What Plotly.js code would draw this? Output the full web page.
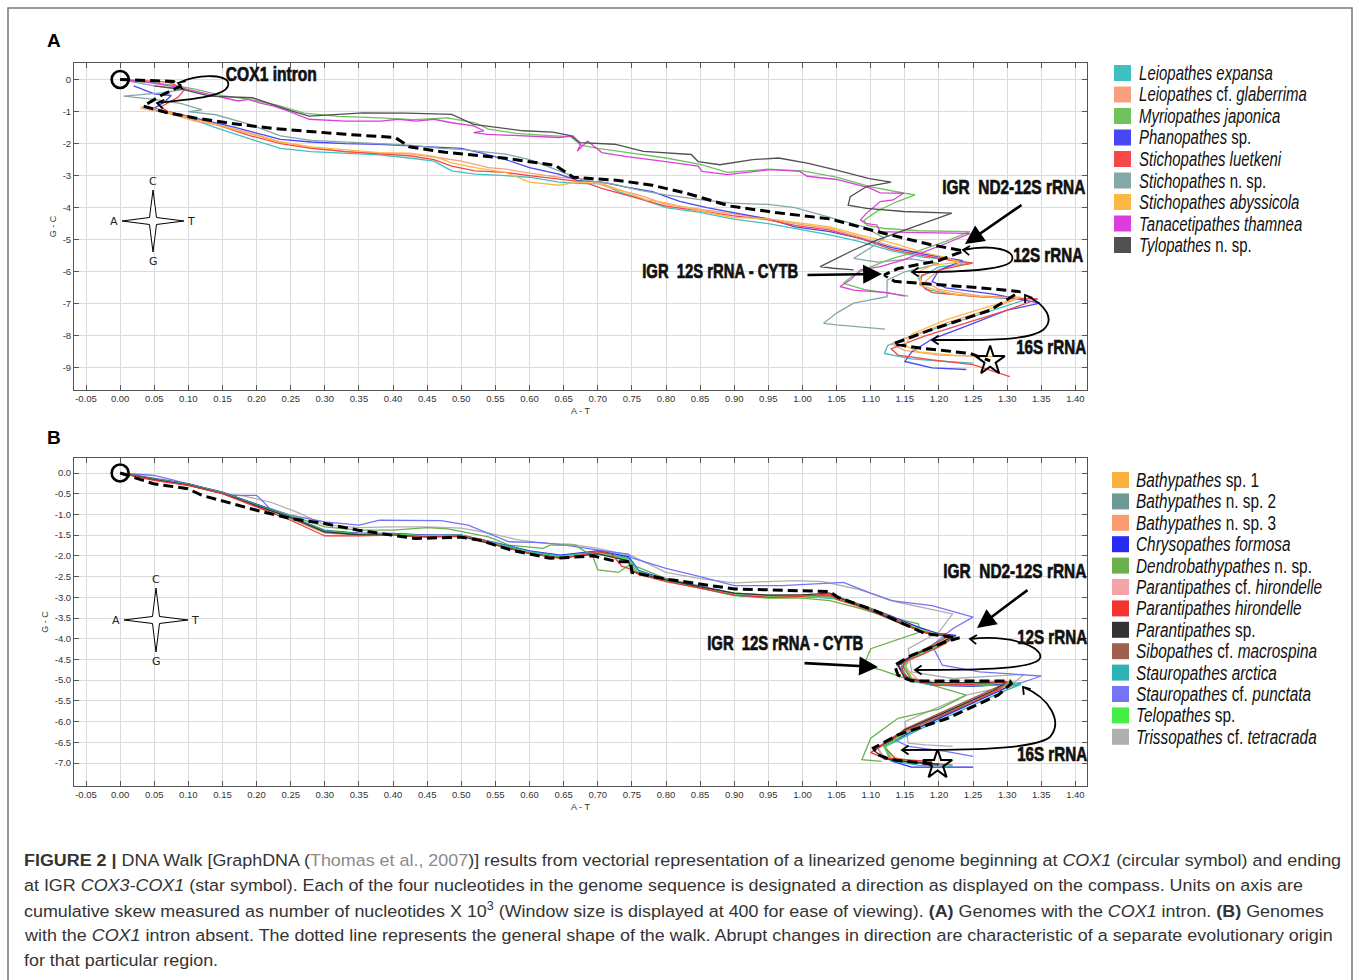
<!DOCTYPE html>
<html><head><meta charset="utf-8">
<script src="https://cdn.plot.ly/plotly-3.0.1.min.js"></script>
<style>body{margin:0;background:#fff}#chart{width:1358px;height:980px}</style>
</head><body><div id="chart"></div>
<script>
// ---------------- DATA: Panel A (genomes with COX1 intron) ----------------
const namesA = ['<i>Leiopathes expansa</i>','<i>Leiopathes</i> cf. <i>glaberrima</i>','<i>Myriopathes japonica</i>','<i>Phanopathes</i> sp.','<i>Stichopathes luetkeni</i>','<i>Stichopathes</i> n. sp.','<i>Stichopathes abyssicola</i>','<i>Tanacetipathes thamnea</i>','<i>Tylopathes</i> n. sp.'];
const colorsA = ['#3fc0c0','#f8a07c','#70c05c','#4747f5','#f54848','#84a8a8','#fbb845','#dd3ddd','#505050'];

const xA_expansa = [0.035,0.06,0.10,0.14,0.19,0.235,0.28,0.33,0.38,0.424,0.46,0.486,0.52,0.565,0.60,0.643,0.68,0.706,0.73,0.76,0.80,0.85,0.897,0.95,0.989,1.04,1.083,1.131,1.178,1.21,1.245,1.20,1.17,1.18,1.23,1.29,1.33,1.28,1.22,1.16,1.125,1.12,1.16,1.21,1.25];
const yA_expansa = [-0.85,-1.0,-1.2,-1.5,-1.85,-2.15,-2.25,-2.3,-2.35,-2.45,-2.55,-2.85,-2.95,-3.0,-3.05,-3.2,-3.25,-3.25,-3.5,-3.7,-4.0,-4.15,-4.35,-4.5,-4.65,-4.85,-5.05,-5.35,-5.55,-5.6,-5.75,-5.85,-6.2,-6.55,-6.72,-6.82,-6.85,-7.2,-7.6,-8.0,-8.3,-8.55,-8.72,-8.8,-8.85];

const xA_glaberrima = [0.03,0.07,0.11,0.15,0.20,0.235,0.28,0.33,0.38,0.424,0.47,0.50,0.54,0.565,0.61,0.643,0.68,0.706,0.73,0.76,0.80,0.85,0.897,0.95,0.989,1.04,1.083,1.131,1.178,1.215,1.24,1.20,1.18,1.20,1.26,1.32,1.27,1.21,1.16,1.13,1.15,1.20,1.27];
const yA_glaberrima = [-0.9,-1.05,-1.3,-1.45,-1.72,-1.95,-2.12,-2.25,-2.3,-2.32,-2.45,-2.55,-2.75,-2.8,-2.95,-3.05,-3.1,-3.3,-3.45,-3.6,-3.9,-4.05,-4.2,-4.35,-4.5,-4.65,-4.9,-5.2,-5.45,-5.6,-5.7,-5.95,-6.3,-6.55,-6.75,-6.8,-7.2,-7.6,-8.0,-8.25,-8.45,-8.6,-8.65];

const xA_japonica = [0.02,0.07,0.11,0.15,0.19,0.23,0.27,0.32,0.38,0.43,0.48,0.52,0.54,0.58,0.63,0.66,0.675,0.70,0.75,0.80,0.85,0.89,0.95,1.00,1.05,1.10,1.15,1.165,1.14,1.11,1.09,1.095,1.12,1.17,1.245,1.21,1.17,1.13,1.10,1.075,1.06,1.09,1.155];
const yA_japonica = [-0.05,-0.15,-0.3,-0.5,-0.62,-0.8,-1.05,-1.15,-1.2,-1.25,-1.2,-1.35,-1.55,-1.68,-1.75,-1.78,-2.05,-2.15,-2.3,-2.45,-2.65,-2.9,-2.8,-2.85,-3.05,-3.35,-3.55,-3.6,-3.8,-4.1,-4.4,-4.55,-4.65,-4.72,-4.75,-5.05,-5.35,-5.6,-5.85,-6.1,-6.36,-6.55,-6.76];

const xA_phanopathes = [0.02,0.05,0.075,0.065,0.05,0.08,0.12,0.17,0.235,0.28,0.33,0.38,0.424,0.46,0.50,0.53,0.565,0.60,0.643,0.67,0.706,0.74,0.78,0.82,0.86,0.897,0.95,0.989,1.04,1.083,1.131,1.178,1.21,1.235,1.20,1.19,1.21,1.28,1.348,1.30,1.24,1.19,1.16,1.15,1.19,1.24];
const yA_phanopathes = [-0.2,-0.45,-0.5,-0.7,-0.9,-1.05,-1.25,-1.5,-1.87,-1.95,-2.0,-2.02,-2.07,-2.1,-2.15,-2.3,-2.5,-2.75,-2.95,-3.15,-3.2,-3.35,-3.5,-3.8,-4.0,-4.15,-4.35,-4.6,-4.75,-4.95,-5.25,-5.45,-5.55,-5.65,-5.95,-6.3,-6.5,-6.7,-6.98,-7.2,-7.7,-8.1,-8.5,-8.8,-9.0,-9.05];

const xA_luetkeni = [0.00,0.07,0.095,0.085,0.06,0.07,0.10,0.14,0.19,0.235,0.28,0.33,0.38,0.424,0.46,0.486,0.52,0.565,0.60,0.643,0.68,0.706,0.75,0.80,0.85,0.897,0.95,0.989,1.04,1.083,1.131,1.178,1.22,1.25,1.21,1.175,1.172,1.19,1.26,1.345,1.30,1.24,1.18,1.13,1.14,1.19,1.25,1.304];
const yA_luetkeni = [0.0,-0.08,-0.3,-0.55,-0.85,-1.0,-1.15,-1.4,-1.75,-2.0,-2.15,-2.25,-2.32,-2.38,-2.5,-2.7,-2.85,-2.9,-3.0,-3.1,-3.2,-3.4,-3.65,-3.95,-4.1,-4.25,-4.38,-4.55,-4.7,-4.95,-5.3,-5.5,-5.65,-5.72,-5.9,-6.1,-6.4,-6.65,-6.78,-6.85,-7.2,-7.6,-8.0,-8.4,-8.6,-8.75,-8.9,-9.27];

const xA_stichNsp = [0.00,0.05,0.09,0.06,0.005,0.05,0.09,0.12,0.10,0.14,0.19,0.235,0.28,0.33,0.38,0.424,0.47,0.50,0.53,0.565,0.60,0.643,0.68,0.72,0.76,0.80,0.85,0.897,0.95,0.989,1.04,1.09,1.12,1.10,1.075,1.11,1.16,1.20,1.15,1.124,1.124,1.075,1.05,1.031,1.05,1.075,1.121];
const yA_stichNsp = [0.0,-0.2,-0.32,-0.42,-0.52,-0.62,-0.75,-0.95,-1.0,-1.1,-1.4,-1.76,-1.9,-1.95,-2.0,-2.05,-2.15,-2.18,-2.25,-2.33,-2.5,-2.85,-3.15,-3.25,-3.45,-3.6,-3.75,-3.86,-3.9,-4.0,-4.3,-4.6,-4.95,-5.25,-5.58,-5.7,-5.6,-5.75,-6.0,-6.26,-6.78,-6.98,-7.29,-7.61,-7.66,-7.71,-7.79];

const xA_abyssicola = [0.03,0.06,0.10,0.14,0.19,0.235,0.28,0.33,0.38,0.424,0.46,0.486,0.52,0.565,0.60,0.643,0.67,0.706,0.74,0.77,0.80,0.85,0.897,0.95,0.989,1.04,1.083,1.131,1.178,1.21,1.23,1.19,1.17,1.175,1.22,1.28,1.32,1.27,1.21,1.16,1.15,1.17,1.22,1.28];
const yA_abyssicola = [-0.85,-0.95,-1.2,-1.4,-1.7,-1.95,-2.1,-2.2,-2.28,-2.3,-2.4,-2.6,-2.75,-2.9,-3.2,-3.3,-3.2,-3.25,-3.5,-3.75,-3.85,-4.1,-4.3,-4.35,-4.45,-4.6,-4.85,-5.1,-5.4,-5.55,-5.7,-5.8,-6.0,-6.45,-6.7,-6.8,-6.8,-7.1,-7.5,-7.95,-8.3,-8.5,-8.6,-8.65];

const xA_thamnea = [0.00,0.04,0.089,0.12,0.157,0.173,0.188,0.204,0.225,0.246,0.277,0.33,0.382,0.408,0.434,0.46,0.486,0.518,0.533,0.518,0.539,0.591,0.643,0.664,0.675,0.67,0.685,0.706,0.74,0.794,0.847,0.853,0.89,0.954,0.996,1.007,1.05,1.098,1.114,1.148,1.133,1.114,1.094,1.085,1.092,1.109,1.114,1.172,1.246,1.211,1.172,1.148,1.114,1.085,1.07,1.055,1.075,1.124,1.15];
const yA_thamnea = [0.0,-0.08,-0.26,-0.41,-0.57,-0.67,-0.62,-0.73,-0.83,-0.98,-1.24,-1.3,-1.3,-1.24,-1.3,-1.24,-1.35,-1.45,-1.6,-1.66,-1.71,-1.76,-1.81,-1.76,-2.02,-2.23,-1.92,-2.28,-2.4,-2.55,-2.7,-2.87,-2.97,-2.81,-2.87,-3.02,-3.12,-3.38,-3.54,-3.55,-3.76,-3.81,-4.17,-4.38,-4.49,-4.54,-4.75,-4.78,-4.8,-5.11,-5.42,-5.63,-5.84,-5.94,-6.26,-6.46,-6.57,-6.65,-6.76];

const xA_tylopathes = [0.05,0.09,0.131,0.194,0.251,0.277,0.356,0.42,0.486,0.518,0.591,0.634,0.66,0.674,0.725,0.767,0.837,0.847,0.879,0.927,0.965,1.007,1.05,1.098,1.13,1.094,1.07,1.067,1.094,1.148,1.219,1.158,1.109,1.075,1.04,1.026,1.045,1.075];
const yA_tylopathes = [-0.2,-0.3,-0.52,-0.57,-0.98,-1.14,-1.04,-1.05,-1.09,-1.4,-1.6,-1.64,-1.75,-1.97,-2.02,-2.24,-2.34,-2.56,-2.66,-2.5,-2.45,-2.61,-2.83,-3.09,-3.2,-3.34,-3.66,-3.92,-4.02,-4.12,-4.17,-4.64,-5.01,-5.32,-5.68,-5.84,-5.89,-5.94];

// general shape of the walk (dotted line), panel A
const xA_shape = [0.00,0.078,0.089,0.06,0.034,0.068,0.11,0.162,0.225,0.28,0.33,0.403,0.424,0.476,0.565,0.638,0.664,0.73,0.78,0.83,0.894,0.96,1.04,1.11,1.187,1.236,1.20,1.14,1.12,1.135,1.216,1.26,1.319,1.275,1.187,1.133,1.172,1.246,1.275];
const yA_shape = [0.0,-0.06,-0.2,-0.5,-0.83,-1.03,-1.2,-1.37,-1.53,-1.63,-1.71,-1.81,-2.1,-2.27,-2.46,-2.68,-3.05,-3.15,-3.3,-3.55,-3.95,-4.15,-4.35,-4.75,-5.15,-5.35,-5.65,-5.9,-6.1,-6.3,-6.42,-6.5,-6.62,-7.2,-7.82,-8.25,-8.38,-8.55,-8.78];

const seriesA = [
  [xA_expansa,yA_expansa],[xA_glaberrima,yA_glaberrima],[xA_japonica,yA_japonica],[xA_phanopathes,yA_phanopathes],
  [xA_luetkeni,yA_luetkeni],[xA_stichNsp,yA_stichNsp],[xA_abyssicola,yA_abyssicola],[xA_thamnea,yA_thamnea],[xA_tylopathes,yA_tylopathes]];

// ---------------- DATA: Panel B (COX1 intron absent) ----------------
const namesB = ['<i>Bathypathes</i> sp. 1','<i>Bathypathes</i> n. sp. 2','<i>Bathypathes</i> n. sp. 3','<i>Chrysopathes formosa</i>','<i>Dendrobathypathes</i> n. sp.','<i>Parantipathes</i> cf. <i>hirondelle</i>','<i>Parantipathes hirondelle</i>','<i>Parantipathes</i> sp.','<i>Sibopathes</i> cf. <i>macrospina</i>','<i>Stauropathes arctica</i>','<i>Stauropathes</i> cf. <i>punctata</i>','<i>Telopathes</i> sp.','<i>Trissopathes</i> cf. <i>tetracrada</i>'];
const colorsB = ['#fbb23c','#6f9999','#f99b70','#2a2af5','#6ab04c','#f5a3aa','#f53232','#333333','#a0604e','#2db3b3','#7474f8','#44ee44','#b0b0b0'];

const xB_bath1 = [0.00,0.05,0.10,0.15,0.20,0.25,0.30,0.35,0.40,0.45,0.50,0.55,0.60,0.645,0.70,0.745,0.75,0.80,0.85,0.90,0.95,1.00,1.05,1.08,1.12,1.16,1.19,1.22,1.21,1.17,1.15,1.16,1.19,1.25,1.31,1.29,1.23,1.17,1.12,1.13,1.16,1.19];
const yB_bath1 = [0.0,-0.16,-0.28,-0.48,-0.78,-1.08,-1.42,-1.48,-1.5,-1.52,-1.5,-1.72,-1.92,-2.02,-1.92,-2.08,-2.35,-2.58,-2.76,-2.92,-2.96,-2.95,-3.0,-3.15,-3.4,-3.7,-3.86,-3.92,-4.12,-4.38,-4.6,-4.95,-5.08,-5.1,-5.04,-5.2,-5.65,-6.1,-6.55,-6.85,-6.95,-7.0];

const xB_bath2 = [0.00,0.05,0.10,0.15,0.20,0.25,0.30,0.35,0.40,0.45,0.50,0.55,0.60,0.645,0.70,0.745,0.75,0.80,0.85,0.90,0.95,1.00,1.05,1.09,1.13,1.17,1.20,1.225,1.20,1.16,1.145,1.15,1.19,1.26,1.32,1.28,1.22,1.16,1.11,1.12,1.15,1.18];
const yB_bath2 = [0.0,-0.14,-0.27,-0.47,-0.76,-1.05,-1.38,-1.45,-1.47,-1.5,-1.5,-1.7,-1.9,-2.0,-1.9,-2.05,-2.32,-2.55,-2.72,-2.9,-2.95,-2.94,-2.98,-3.2,-3.45,-3.75,-3.9,-3.95,-4.15,-4.45,-4.7,-4.98,-5.1,-5.12,-5.06,-5.3,-5.75,-6.2,-6.65,-6.9,-6.98,-7.02];

const xB_bath3 = [0.00,0.05,0.10,0.15,0.20,0.25,0.30,0.35,0.40,0.45,0.50,0.55,0.60,0.645,0.70,0.74,0.76,0.80,0.85,0.90,0.95,1.00,1.05,1.09,1.13,1.17,1.20,1.22,1.19,1.16,1.15,1.17,1.21,1.27,1.315,1.28,1.22,1.16,1.12,1.13,1.17,1.20];
const yB_bath3 = [0.0,-0.17,-0.3,-0.5,-0.8,-1.1,-1.45,-1.5,-1.5,-1.53,-1.52,-1.74,-1.95,-2.04,-1.93,-2.1,-2.38,-2.6,-2.78,-2.93,-2.98,-2.96,-3.02,-3.22,-3.48,-3.76,-3.9,-3.94,-4.2,-4.45,-4.68,-5.0,-5.1,-5.1,-5.08,-5.3,-5.72,-6.18,-6.6,-6.9,-6.98,-7.05];

const xB_chrys = [0.00,0.05,0.10,0.15,0.20,0.25,0.30,0.35,0.40,0.45,0.50,0.55,0.60,0.645,0.70,0.745,0.76,0.80,0.85,0.90,0.95,1.00,1.05,1.09,1.13,1.17,1.20,1.225,1.20,1.16,1.14,1.15,1.19,1.25,1.31,1.29,1.23,1.17,1.12,1.13,1.16,1.20,1.25];
const yB_chrys = [0.0,-0.14,-0.26,-0.46,-0.76,-1.06,-1.4,-1.46,-1.46,-1.5,-1.5,-1.68,-1.88,-1.98,-1.88,-2.02,-2.35,-2.58,-2.75,-2.92,-2.98,-2.98,-3.02,-3.22,-3.46,-3.72,-3.88,-3.92,-4.15,-4.4,-4.62,-4.9,-5.12,-5.15,-5.08,-5.25,-5.7,-6.15,-6.6,-6.95,-7.1,-7.1,-7.1];

const xB_dendro = [0.00,0.05,0.10,0.15,0.20,0.25,0.30,0.35,0.40,0.45,0.48,0.54,0.57,0.62,0.63,0.667,0.693,0.70,0.73,0.748,0.80,0.85,0.90,0.95,1.00,1.04,1.08,1.12,1.17,1.172,1.10,1.09,1.116,1.165,1.19,1.24,1.20,1.14,1.10,1.087,1.116];
const yB_dendro = [0.0,-0.15,-0.28,-0.48,-0.75,-1.02,-1.3,-1.38,-1.38,-1.32,-1.35,-1.54,-1.74,-1.82,-1.74,-1.74,-2.02,-2.34,-2.4,-2.2,-2.55,-2.75,-2.95,-3.02,-3.02,-3.08,-3.25,-3.45,-3.64,-3.84,-4.24,-4.64,-4.76,-5.04,-5.12,-5.36,-5.7,-5.92,-6.4,-6.92,-6.96];

const xB_paraCf = [0.00,0.05,0.10,0.15,0.20,0.25,0.30,0.35,0.40,0.45,0.50,0.55,0.60,0.645,0.70,0.745,0.755,0.80,0.85,0.90,0.95,1.00,1.04,1.07,1.11,1.15,1.19,1.22,1.20,1.17,1.15,1.16,1.20,1.26,1.31,1.28,1.22,1.16,1.11,1.12,1.16,1.19];
const yB_paraCf = [0.0,-0.17,-0.3,-0.5,-0.8,-1.1,-1.44,-1.5,-1.49,-1.52,-1.51,-1.73,-1.93,-2.04,-1.92,-2.08,-2.36,-2.6,-2.77,-2.93,-2.98,-2.96,-2.94,-3.12,-3.38,-3.65,-3.88,-3.94,-4.16,-4.4,-4.6,-4.95,-5.08,-5.08,-5.04,-5.22,-5.68,-6.15,-6.6,-6.88,-6.96,-7.0];

const xB_paraHir = [0.00,0.05,0.10,0.15,0.20,0.25,0.30,0.35,0.40,0.45,0.50,0.53,0.56,0.60,0.645,0.67,0.70,0.72,0.735,0.745,0.76,0.80,0.85,0.90,0.95,1.00,1.04,1.05,1.08,1.11,1.14,1.17,1.19,1.21,1.22,1.20,1.17,1.15,1.145,1.16,1.20,1.25,1.30,1.29,1.24,1.19,1.14,1.10,1.12,1.15,1.19];
const yB_paraHir = [0.0,-0.18,-0.3,-0.5,-0.82,-1.14,-1.52,-1.52,-1.5,-1.55,-1.52,-1.6,-1.78,-1.94,-2.06,-2.0,-1.9,-1.95,-2.25,-2.3,-2.45,-2.62,-2.78,-2.95,-3.0,-2.98,-2.92,-3.05,-3.2,-3.35,-3.55,-3.8,-3.88,-3.88,-3.98,-4.2,-4.42,-4.55,-4.8,-5.0,-5.12,-5.1,-5.04,-5.2,-5.6,-5.95,-6.3,-6.75,-6.88,-6.92,-6.97];

const xB_paraSp = [0.00,0.05,0.10,0.15,0.20,0.25,0.30,0.35,0.40,0.45,0.50,0.55,0.60,0.645,0.70,0.745,0.75,0.80,0.85,0.90,0.95,1.00,1.04,1.06,1.10,1.14,1.18,1.22,1.20,1.16,1.14,1.15,1.19,1.25,1.30,1.28,1.22,1.15,1.105,1.12,1.16,1.20];
const yB_paraSp = [0.0,-0.16,-0.29,-0.49,-0.79,-1.08,-1.42,-1.49,-1.5,-1.54,-1.53,-1.74,-1.94,-2.05,-1.95,-2.12,-2.38,-2.58,-2.75,-2.9,-2.95,-2.94,-2.9,-3.05,-3.3,-3.6,-3.86,-3.95,-4.12,-4.42,-4.65,-4.95,-5.06,-5.06,-5.04,-5.25,-5.7,-6.2,-6.7,-6.9,-6.98,-7.03];

const xB_sibo = [0.00,0.05,0.10,0.15,0.20,0.25,0.30,0.35,0.40,0.45,0.50,0.55,0.60,0.645,0.70,0.745,0.755,0.80,0.85,0.90,0.95,1.00,1.04,1.07,1.11,1.15,1.19,1.215,1.19,1.16,1.145,1.16,1.20,1.26,1.30,1.27,1.21,1.15,1.12,1.14,1.18,1.22];
const yB_sibo = [0.0,-0.15,-0.28,-0.48,-0.78,-1.08,-1.43,-1.48,-1.48,-1.52,-1.5,-1.71,-1.92,-2.03,-1.93,-2.1,-2.37,-2.6,-2.78,-2.95,-3.0,-2.98,-2.96,-3.14,-3.4,-3.68,-3.88,-3.93,-4.15,-4.42,-4.62,-4.98,-5.1,-5.1,-5.06,-5.28,-5.72,-6.18,-6.62,-6.95,-7.0,-7.05];

const xB_arctica = [0.00,0.05,0.10,0.15,0.20,0.25,0.30,0.35,0.40,0.45,0.50,0.55,0.60,0.645,0.70,0.745,0.76,0.80,0.85,0.90,0.95,1.00,1.05,1.09,1.13,1.17,1.20,1.225,1.20,1.16,1.145,1.155,1.19,1.26,1.32,1.29,1.23,1.17,1.12,1.13,1.17,1.22];
const yB_arctica = [0.0,-0.15,-0.27,-0.47,-0.77,-1.07,-1.4,-1.47,-1.47,-1.51,-1.5,-1.69,-1.9,-2.0,-1.9,-2.06,-2.36,-2.6,-2.78,-2.96,-3.0,-2.98,-3.04,-3.25,-3.5,-3.78,-3.92,-3.96,-4.18,-4.45,-4.68,-4.98,-5.12,-5.14,-5.1,-5.3,-5.75,-6.2,-6.62,-6.95,-7.05,-7.08];

const xB_punctata = [0.00,0.05,0.08,0.12,0.16,0.20,0.22,0.25,0.30,0.35,0.38,0.43,0.47,0.51,0.54,0.57,0.62,0.66,0.70,0.745,0.75,0.80,0.85,0.90,0.97,1.02,1.06,1.10,1.13,1.19,1.25,1.22,1.19,1.205,1.26,1.35,1.31,1.24,1.17,1.13,1.155,1.21,1.25];
const yB_punctata = [0.0,-0.06,-0.18,-0.38,-0.54,-0.54,-0.86,-1.02,-1.18,-1.26,-1.14,-1.14,-1.15,-1.26,-1.46,-1.66,-1.68,-1.76,-1.86,-1.96,-2.05,-2.3,-2.5,-2.72,-2.72,-2.68,-2.64,-2.9,-3.08,-3.2,-3.48,-3.76,-4.16,-4.64,-4.8,-4.9,-5.12,-5.52,-6.08,-6.4,-6.6,-6.72,-6.84];

const xB_telo = [0.00,0.05,0.10,0.15,0.20,0.25,0.30,0.35,0.40,0.45,0.50,0.55,0.60,0.645,0.70,0.745,0.755,0.80,0.85,0.90,0.95,1.00,1.05,1.09,1.13,1.17,1.20,1.22,1.20,1.16,1.15,1.16,1.20,1.26,1.31,1.28,1.22,1.16,1.12,1.13,1.16,1.19];
const yB_telo = [0.0,-0.16,-0.29,-0.49,-0.79,-1.09,-1.42,-1.47,-1.48,-1.52,-1.51,-1.72,-1.93,-2.03,-1.93,-2.09,-2.37,-2.59,-2.76,-2.93,-2.98,-2.97,-3.02,-3.22,-3.48,-3.76,-3.9,-3.95,-4.17,-4.44,-4.66,-4.97,-5.1,-5.1,-5.06,-5.26,-5.72,-6.18,-6.62,-6.9,-6.98,-7.02];

const xB_triss = [0.00,0.05,0.10,0.15,0.18,0.22,0.26,0.30,0.35,0.40,0.45,0.50,0.54,0.58,0.62,0.66,0.70,0.75,0.80,0.85,0.90,0.95,0.99,1.03,1.08,1.14,1.22,1.20,1.155,1.16,1.22,1.325,1.306,1.24,1.15,1.155,1.18,1.22];
const yB_triss = [0.0,-0.12,-0.25,-0.5,-0.55,-0.7,-0.95,-1.25,-1.32,-1.3,-1.3,-1.33,-1.45,-1.6,-1.7,-1.72,-1.82,-2.0,-2.4,-2.55,-2.65,-2.62,-2.6,-2.62,-2.8,-3.12,-3.4,-3.84,-4.24,-4.8,-4.96,-4.86,-5.12,-5.36,-6.0,-6.52,-6.56,-6.6];

// general shape of the walk (dotted line), panel B
const xB_shape = [0.00,0.049,0.099,0.12,0.20,0.25,0.30,0.349,0.398,0.432,0.50,0.526,0.573,0.63,0.667,0.693,0.728,0.748,0.75,0.80,0.90,1.04,1.052,1.106,1.18,1.218,1.23,1.209,1.16,1.135,1.14,1.16,1.19,1.304,1.306,1.287,1.213,1.14,1.104,1.111,1.13,1.17,1.198];
const yB_shape = [0.0,-0.26,-0.38,-0.54,-0.9,-1.1,-1.22,-1.38,-1.5,-1.58,-1.55,-1.62,-1.86,-2.06,-2.03,-2.0,-2.14,-2.14,-2.4,-2.56,-2.8,-2.86,-3.0,-3.32,-3.88,-3.96,-3.98,-4.08,-4.4,-4.64,-4.88,-5.02,-5.02,-5.02,-5.08,-5.36,-5.92,-6.32,-6.64,-6.8,-6.92,-6.98,-7.04];

const seriesB = [
  [xB_bath1,yB_bath1],[xB_bath2,yB_bath2],[xB_bath3,yB_bath3],[xB_chrys,yB_chrys],[xB_dendro,yB_dendro],
  [xB_paraCf,yB_paraCf],[xB_paraHir,yB_paraHir],[xB_paraSp,yB_paraSp],[xB_sibo,yB_sibo],[xB_arctica,yB_arctica],
  [xB_punctata,yB_punctata],[xB_telo,yB_telo],[xB_triss,yB_triss]];
const drawOrderB = [12,10,4,0,1,2,3,5,8,9,11,7,6];

// axis tick values
const xTicks = [-0.05,0.00,0.05,0.10,0.15,0.20,0.25,0.30,0.35,0.40,0.45,0.50,0.55,0.60,0.65,0.70,0.75,0.80,0.85,0.90,0.95,1.00,1.05,1.10,1.15,1.20,1.25,1.30,1.35,1.40];
const yTicksA = [0,-1,-2,-3,-4,-5,-6,-7,-8,-9];
const yTicksB = [0.0,-0.5,-1.0,-1.5,-2.0,-2.5,-3.0,-3.5,-4.0,-4.5,-5.0,-5.5,-6.0,-6.5,-7.0];

// ---------------- BUILD ----------------
const W = 1358, H = 980;
const PX = x => x / W, PY = y => 1 - y / H;
const traces = [];
seriesA.forEach((s, i) => traces.push({type:'scatter', mode:'lines', x:s[0], y:s[1], xaxis:'x', yaxis:'y', line:{color:colorsA[i], width:1.3}, hoverinfo:'skip'}));
traces.push({type:'scatter', mode:'lines', x:xA_shape, y:yA_shape, xaxis:'x', yaxis:'y', line:{color:'#000', width:3, dash:'10px,5px'}, hoverinfo:'skip'});
traces.push({type:'scatter', mode:'markers', x:[xA_shape[0]], y:[yA_shape[0]], xaxis:'x', yaxis:'y', marker:{symbol:'circle-open', size:17, color:'#000', line:{width:2.6}}, hoverinfo:'skip'});
traces.push({type:'scatter', mode:'markers', x:[xA_shape[xA_shape.length-1]], y:[yA_shape[yA_shape.length-1]], xaxis:'x', yaxis:'y', marker:{symbol:'star-open', size:22, color:'#000', line:{width:2}}, hoverinfo:'skip'});
drawOrderB.forEach(i => { const s = seriesB[i]; traces.push({type:'scatter', mode:'lines', x:s[0], y:s[1], xaxis:'x2', yaxis:'y2', line:{color:colorsB[i], width:1.3}, hoverinfo:'skip'}); });
traces.push({type:'scatter', mode:'lines', x:xB_shape, y:yB_shape, xaxis:'x2', yaxis:'y2', line:{color:'#000', width:3, dash:'10px,5px'}, hoverinfo:'skip'});
traces.push({type:'scatter', mode:'markers', x:[xB_shape[0]], y:[yB_shape[0]], xaxis:'x2', yaxis:'y2', marker:{symbol:'circle-open', size:17, color:'#000', line:{width:2.6}}, hoverinfo:'skip'});
traces.push({type:'scatter', mode:'markers', x:[xB_shape[xB_shape.length-1]], y:[yB_shape[yB_shape.length-1]], xaxis:'x2', yaxis:'y2', marker:{symbol:'star-open', size:22, color:'#000', line:{width:2}}, hoverinfo:'skip'});

const tickFont = {family:'Liberation Sans, Arial, sans-serif', size:9.5, color:'#333'};
function xAxis(anchor, title) {
  return {domain:[74/W, 1087/W], range:[-0.0676, 1.417], anchor:anchor,
    tickmode:'array', tickvals:xTicks, ticktext:xTicks.map(v => v.toFixed(2)),
    ticks:'inside', ticklen:5, tickcolor:'#555', mirror:'ticks', showline:true, linecolor:'#555', linewidth:1,
    showgrid:true, gridcolor:'#dadada', gridwidth:1, zeroline:false, tickfont:tickFont,
    title:{text:title, font:{family:'Liberation Sans, Arial, sans-serif', size:9, color:'#333'}, standoff:4}};
}
function yAxis(anchor, dom, rng, vals, dec) {
  return {domain:dom, range:rng, anchor:anchor,
    tickmode:'array', tickvals:vals, ticktext:vals.map(v => v.toFixed(dec)),
    ticks:'inside', ticklen:5, tickcolor:'#555', mirror:'ticks', showline:true, linecolor:'#555', linewidth:1,
    showgrid:true, gridcolor:'#dadada', gridwidth:1, zeroline:false, tickfont:tickFont,
    title:{text:'G - C', font:{family:'Liberation Sans, Arial, sans-serif', size:9, color:'#333'}, standoff:4}};
}

const shapes = [];
const annotations = [];
const fitGroups = {};
function addAnn(a, group) {
  annotations.push(a);
  if (group) { fitGroups[group] = fitGroups[group] || {idx:[]}; fitGroups[group].idx.push(annotations.length - 1); }
}
// outer frame of the figure
shapes.push({type:'rect', xref:'paper', yref:'paper', x0:PX(8), x1:PX(1352), y0:PY(990), y1:PY(8), line:{color:'#777', width:1.5}});

function P(cmds) { // SVG path in paper coordinates from pixel coordinates
  let out = '';
  cmds.forEach(c => {
    out += c[0];
    for (let k = 1; k < c.length; k += 2) out += (k > 1 ? ' ' : '') + PX(c[k]).toFixed(5) + ',' + PY(c[k+1]).toFixed(5);
    out += ' ';
  });
  return out.trim();
}
// compass rose
function compass(cx, cy, r) {
  const w = 3.5;
  shapes.push({type:'path', xref:'paper', yref:'paper', fillcolor:'#fff', line:{color:'#000', width:1},
    path: P([['M',cx,cy-r],['L',cx+w,cy-w],['L',cx+r,cy],['L',cx+w,cy+w],['L',cx,cy+r],['L',cx-w,cy+w],['L',cx-r,cy],['L',cx-w,cy-w],['Z']])});
  const f = {family:'DejaVu Sans, Liberation Sans, sans-serif', size:11, color:'#222'};
  [['C',cx,cy-r-9],['G',cx,cy+r+9],['A',cx-r-8,cy],['T',cx+r+7,cy]].forEach(t =>
    addAnn({xref:'paper', yref:'paper', x:PX(t[1]), y:PY(t[2]), text:t[0], showarrow:false, font:f, xanchor:'center', yanchor:'middle'}));
}
compass(153, 221, 31);
compass(156, 620, 32);

// curved arrows (with open chevron heads)
function chev(tx, ty, ang) {
  const a = ang * Math.PI / 180, L = 8, s = 0.6;
  return [['M',tx - L*Math.cos(a - s), ty - L*Math.sin(a - s)],['L',tx,ty],['L',tx - L*Math.cos(a + s), ty - L*Math.sin(a + s)]];
}
function curve(cmds, h1, h2) {
  shapes.push({type:'path', xref:'paper', yref:'paper', line:{color:'#000', width:1.8}, path:P(cmds.concat(chev(...h1), chev(...h2)))});
}
curve([['M',178,83],['C',200,73,232,74,228,86],['C',224,97,190,99,157,103]], [178,83,200], [157,103,190]);
curve([['M',963,250],['C',992,244,1016,250,1012,260],['C',1008,270,965,272,912,272]], [963,250,185], [912,272,180]);
curve([['M',1025,295],['C',1047,305,1055,320,1043,330],['C',1028,341,985,340,932,340]], [1025,295,235], [932,340,180]);
curve([['M',970,639],['C',1012,634,1044,648,1040,658],['C',1036,669,980,670,915,670]], [970,639,185], [915,670,180]);
curve([['M',1023,687],['C',1050,698,1063,722,1050,737],['C',1034,750,960,750,902,750]], [1023,687,230], [902,750,180]);

// straight filled arrows
function arrow(tx, ty, ax, ay) {
  addAnn({xref:'paper', yref:'paper', x:PX(tx), y:PY(ty), ax:ax, ay:ay, text:' ', showarrow:true,
    arrowhead:2, arrowsize:1.45, arrowwidth:2.6, arrowcolor:'#000', font:{size:1}});
}
arrow(965, 244, 58, -40);
arrow(882, 274, -76, 1);
arrow(977, 628, 52, -39);
arrow(878, 667, -75, -4);

// bold region labels (condensed to the reference widths after drawing)
const lab = {family:'Liberation Sans, Arial, sans-serif', size:20, color:'#111'};
const labels = [['COX1 intron',271,74,91],['IGR  ND2-12S rRNA',1014,187,143],['12S rRNA',1048,255,70],['IGR  12S rRNA - CYTB',720,271,156],['16S rRNA',1051,347,70],
 ['IGR  ND2-12S rRNA',1015,571,143],['12S rRNA',1052,637,70],['IGR  12S rRNA - CYTB',785,643,156],['16S rRNA',1052,754,70]];
labels.forEach((t, k) => addAnn({xref:'paper', yref:'paper', x:PX(t[1]), y:PY(t[2]), text:'<b>' + t[0] + '</b>', showarrow:false, font:lab, xanchor:'center', yanchor:'middle'}, 'lab' + k));
labels.forEach((t, k) => { const g = fitGroups['lab' + k]; g.target = t[3]; g.origin = 'center'; g.heavy = true; });

// panel letters
[['A',54,40],['B',54,437]].forEach(t => addAnn({xref:'paper', yref:'paper', x:PX(t[1]), y:PY(t[2]), text:'<b>' + t[0] + '</b>', showarrow:false,
  font:{family:'Liberation Sans, Arial, sans-serif', size:19, color:'#000'}, xanchor:'center', yanchor:'middle'}));

// custom legends
const legFont = {family:'Liberation Sans, Arial, sans-serif', size:19.5, color:'#111'};
namesA.forEach((n, i) => {
  const cy = 73 + i * 21.5;
  shapes.push({type:'rect', xref:'paper', yref:'paper', x0:PX(1114), x1:PX(1131), y0:PY(cy + 8), y1:PY(cy - 8), fillcolor:colorsA[i], line:{width:0}});
  addAnn({xref:'paper', yref:'paper', x:PX(1137), y:PY(cy), text:n, showarrow:false, font:legFont, xanchor:'left', yanchor:'middle'}, 'legA');
});
namesB.forEach((n, i) => {
  const cy = 480 + i * 21.4;
  shapes.push({type:'rect', xref:'paper', yref:'paper', x0:PX(1112), x1:PX(1129), y0:PY(cy + 8), y1:PY(cy - 8), fillcolor:colorsB[i], line:{width:0}});
  addAnn({xref:'paper', yref:'paper', x:PX(1134), y:PY(cy), text:n, showarrow:false, font:legFont, xanchor:'left', yanchor:'middle'}, 'legB');
});
fitGroups.legA.target = 134; fitGroups.legA.origin = 'left center';
fitGroups.legB.target = 123; fitGroups.legB.origin = 'left center';

// caption
const capFont = {family:'Liberation Sans, Arial, sans-serif', size:17, color:'#333'};
const caption = [
  "<b>FIGURE 2 |</b> DNA Walk [GraphDNA (<span style='color:#8a8a8a'>Thomas et al., 2007</span>)] results from vectorial representation of a linearized genome beginning at <i>COX1</i> (circular symbol) and ending",
  "at IGR <i>COX3-COX1</i> (star symbol). Each of the four nucleotides in the genome sequence is designated a direction as displayed on the compass. Units on axis are",
  "cumulative skew measured as number of nucleotides X 10<sup>3</sup> (Window size is displayed at 400 for ease of viewing). <b>(A)</b> Genomes with the <i>COX1</i> intron. <b>(B)</b> Genomes",
  "with the <i>COX1</i> intron absent. The dotted line represents the general shape of the walk. Abrupt changes in direction are characteristic of a separate evolutionary origin",
  "for that particular region."];
caption.forEach((t, i) => addAnn({xref:'paper', yref:'paper', x:PX(22), y:PY(860 + i * 25.2), text:t, showarrow:false, font:capFont, xanchor:'left', yanchor:'middle', align:'left'}, 'cap'));
fitGroups.cap.target = 1318; fitGroups.cap.origin = 'left center';

const layout = {
  width:W, height:H, margin:{l:0, r:0, t:0, b:0}, paper_bgcolor:'#fff', plot_bgcolor:'#fff', showlegend:false,
  xaxis: xAxis('y', 'A - T'),
  yaxis: yAxis('x', [1 - 390/H, 1 - 63/H], [-9.69, 0.515], yTicksA, 0),
  xaxis2: xAxis('y2', 'A - T'),
  yaxis2: yAxis('x2', [1 - 786/H, 1 - 458/H], [-7.555, 0.362], yTicksB, 1),
  shapes: shapes, annotations: annotations
};
Plotly.newPlot('chart', traces, layout, {staticPlot:true, displayModeBar:false}).then(gd => {
  // narrow the text horizontally so it matches the condensed typefaces of the reference
  const txt = i => gd.querySelector('g.annotation[data-index="' + i + '"] text.annotation-text');
  Object.values(fitGroups).forEach(g => {
    if (!g.target) return;
    const ref = txt(g.idx[0]);
    if (!ref) return;
    const s = g.target / ref.getBBox().width;
    g.idx.forEach(i => {
      const el = txt(i);
      if (!el) return;
      el.style.transformBox = 'fill-box';
      el.style.transformOrigin = g.origin;
      el.style.transform = 'scaleX(' + s.toFixed(4) + ')';
      if (g.heavy) { el.style.stroke = '#111'; el.style.strokeWidth = '0.7px'; el.style.paintOrder = 'stroke'; }
    });
  });
});
</script></body></html>
